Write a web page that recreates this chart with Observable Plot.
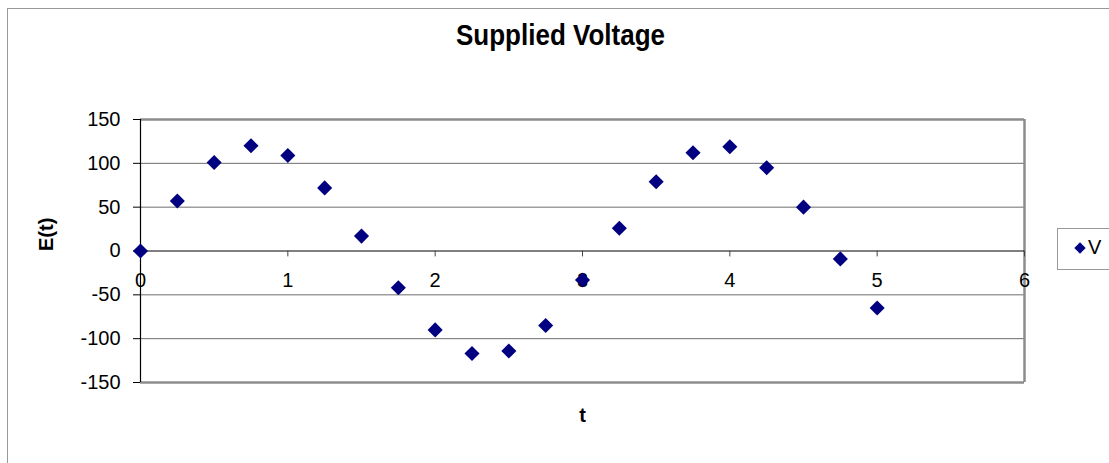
<!DOCTYPE html>
<html>
<head>
<meta charset="utf-8">
<script src="https://cdn.jsdelivr.net/npm/d3@7"></script>
<script src="https://cdn.jsdelivr.net/npm/@observablehq/plot@0.6"></script>
<style>
  html, body { margin: 0; padding: 0; background: #fff; }
  #wrap { position: relative; width: 1109px; height: 463px; overflow: hidden; font-family: "Liberation Sans", Arial, sans-serif; }
  #wrap svg { position: absolute; left: 0; top: 0; }
  .border { position: absolute; left: 7px; top: 8px; width: 1200px; height: 600px; border-left: 1px solid #999; border-top: 1px solid #999; }
  .title { position: absolute; left: 0; width: 1121px; top: 20px; text-align: center; font-weight: bold; font-size: 26px; color: #000; transform: scaleY(1.12); }
  .legend { position: absolute; left: 1057px; top: 228px; width: 80px; height: 40px; border: 1px solid #999; background: #fff; }
  .legend .sym { position: absolute; left: 18px; top: 15px; width: 8px; height: 8px; background: #000080; transform: rotate(45deg); }
  .legend .lab { position: absolute; left: 30px; top: 7px; font-size: 20px; color: #000; }
</style>
</head>
<body>
<div id="wrap">
  <div class="border"></div>
  <div class="title"></div>
</div>
<script>
const tValues = [0, 0.25, 0.5, 0.75, 1, 1.25, 1.5, 1.75, 2, 2.25, 2.5, 2.75, 3, 3.25, 3.5, 3.75, 4, 4.25, 4.5, 4.75, 5];
const vValues = [0, 57, 101, 120, 109, 72, 17, -42, -90, -117, -114, -85, -33, 26, 79, 112, 119, 95, 50, -9, -65];
const xTicks = [0, 1, 2, 3, 4, 5, 6];
const yTicks = [-150, -100, -50, 0, 50, 100, 150];
const gridValues = [-100, -50, 50, 100];
const seriesName = "V";
const titleText = "Supplied Voltage";
const xLabel = "t";
const yLabel = "E(t)";

const data = tValues.map((t, i) => ({t, v: vValues[i]}));

const tickShape = {
  draw(context, l) { context.moveTo(0, 0); context.lineTo(0, -l); }
};

const chart = Plot.plot({
  width: 1109,
  height: 463,
  marginLeft: 140,
  marginRight: 85,
  marginTop: 119,
  marginBottom: 81,
  style: {fontFamily: "'Liberation Sans', Arial, sans-serif", background: "transparent", overflow: "visible"},
  x: {domain: [0, 6], axis: null},
  y: {domain: [-150, 150], axis: null},
  marks: [
    Plot.ruleY(gridValues, {stroke: "#6e6e6e", strokeWidth: 1}),
    Plot.ruleY([150, -150], {stroke: "#8c8c8c", strokeWidth: 2.5}),
    Plot.ruleX([6], {stroke: "#8c8c8c", strokeWidth: 2.5}),
    Plot.ruleY([0], {stroke: "#000", strokeWidth: 1}),
    Plot.ruleX([0], {stroke: "#000", strokeWidth: 1.2}),
    Plot.axisY({ticks: yTicks, tickSize: 7, tickPadding: 13, fontSize: 20, label: null, tickFormat: d => String(d), stroke: "#000", color: "#000"}),
    Plot.vector(xTicks, {x: d => d, y: () => 0, length: 5, rotate: 180, anchor: "start", shape: tickShape, stroke: "#444", strokeWidth: 1}),
    Plot.text(xTicks, {x: d => d, y: () => 0, text: d => String(d), dy: 30, fontSize: 20, fill: "#000"}),
    Plot.dot(data, {x: "t", y: "v", symbol: "diamond2", r: 6.8, fill: "#000080", stroke: null}),
    Plot.text([yLabel], {frameAnchor: "left", dx: -94, rotate: -90, fontSize: 20, fontWeight: "bold", fill: "#000"}),
    Plot.text([xLabel], {frameAnchor: "bottom", dy: 39, dx: 0, fontSize: 20, fontWeight: "bold", fill: "#000"})
  ]
});

const wrap = document.getElementById("wrap");
wrap.insertBefore(chart, wrap.firstChild);
document.querySelector(".title").textContent = titleText;
const legend = document.createElement("div");
legend.className = "legend";
legend.innerHTML = '<div class="sym"></div><div class="lab"></div>';
legend.querySelector(".lab").textContent = seriesName;
wrap.appendChild(legend);
</script>
</body>
</html>
